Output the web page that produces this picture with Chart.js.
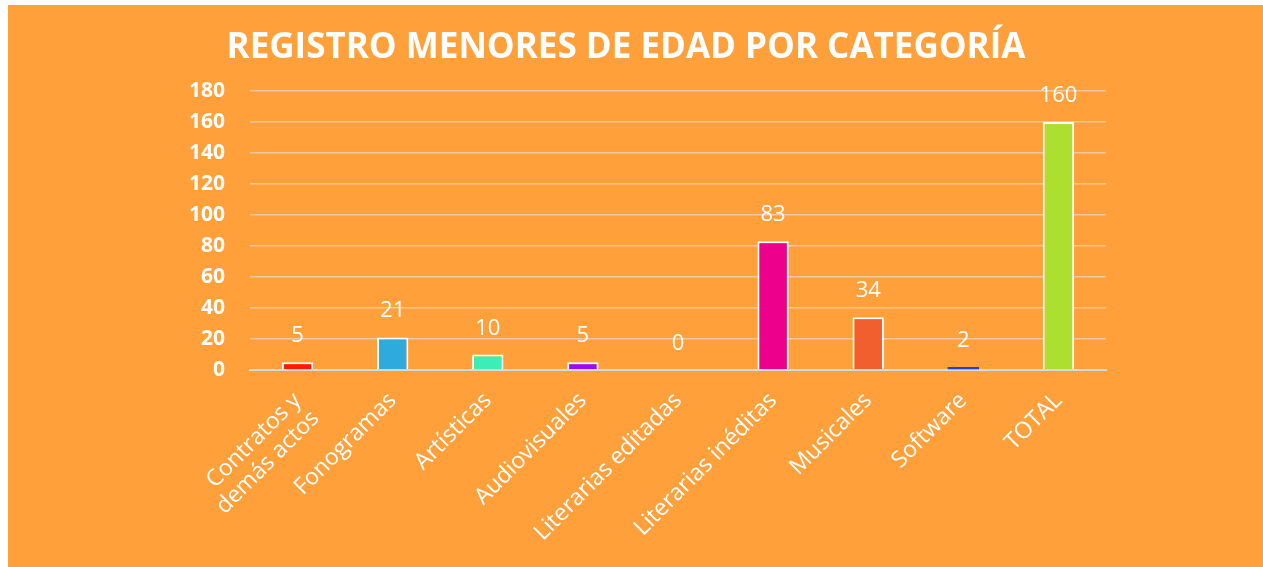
<!DOCTYPE html>
<html>
<head>
<meta charset="utf-8">
<script src="https://cdn.jsdelivr.net/npm/chart.js@4/dist/chart.umd.min.js"></script>
<style>
  html, body { margin: 0; padding: 0; background: #ffffff; }
  #box {
    position: absolute; left: 8px; top: 5px;
    width: 1255px; height: 562px;
    background: #FFA03B;
  }
</style>
</head>
<body>
<div id="box"><canvas id="registro"></canvas></div>
<script>
var categorias = [['Contratos y', 'demás actos'], 'Fonogramas', 'Artísticas', 'Audiovisuales',
  'Literarias editadas', 'Literarias inéditas', 'Musicales', 'Software', 'TOTAL'];
var registros = [5, 21, 10, 5, 0, 83, 34, 2, 160];
var colores = ['#FF1A00', '#2EAADC', '#3DEDB8', '#9B0AFF', '#7F7F7F', '#EC008C', '#F05F2D', '#1A3FE6', '#ADE02E'];
var bordes = [2, 2, 2, 2, 2, 2, 2, 0, 2];

// etiquetas de valor encima de cada barra
var etiquetasValor = {
  id: 'etiquetasValor',
  afterDatasetsDraw: function (chart) {
    var ctx = chart.ctx;
    var meta = chart.getDatasetMeta(0);
    ctx.save();
    ctx.fillStyle = '#ffffff';
    ctx.font = "22px 'Open Sans'";
    ctx.textAlign = 'center';
    ctx.textBaseline = 'alphabetic';
    meta.data.forEach(function (bar, i) {
      ctx.fillText(registros[i], bar.x, bar.y - 20);
    });
    ctx.restore();
  }
};

var data = {
  labels: categorias,
  datasets: [{
    label: 'Registros',
    data: registros,
    backgroundColor: colores,
    borderColor: '#ffffff',
    borderWidth: bordes,
    barPercentage: 0.33,
    categoryPercentage: 1
  }]
};

var options = {
  responsive: true,
  maintainAspectRatio: false,
  animation: false,
  layout: {
    padding: { left: 138, right: 157, top: 0, bottom: 10 }
  },
  plugins: {
    legend: { display: false },
    tooltip: { enabled: false },
    title: {
      display: true,
      text: 'REGISTRO MENORES DE EDAD POR CATEGORÍA',
      color: '#ffffff',
      font: { size: 35, weight: 'bold', family: "'Open Sans', sans-serif" },
      padding: { top: 22, bottom: 22 }
    }
  },
  scales: {
    x: {
      afterFit: function (scale) { scale.height = 187; },
      grid: { display: false, drawTicks: false },
      border: { display: true, color: '#D9D9D9', width: 2 },
      ticks: {
        color: '#ffffff',
        maxRotation: 45,
        minRotation: 45,
        padding: 18,
        font: { size: 23, family: "'Open Sans', sans-serif", lineHeight: 1.1 }
      }
    },
    y: {
      min: 0,
      max: 180,
      afterFit: function (scale) { scale.width = 104; },
      border: { display: false },
      grid: { color: '#EFC8A0', lineWidth: 1.5, drawTicks: false },
      ticks: {
        stepSize: 20,
        color: '#ffffff',
        padding: 25,
        font: { size: 21, weight: 'bold', family: "'Open Sans', sans-serif" }
      }
    }
  }
};

var ctx = document.getElementById('registro');
var myChart = new Chart(ctx, {
  type: 'bar',
  data: data,
  options: options,
  plugins: [etiquetasValor]
});
</script>
</body>
</html>
